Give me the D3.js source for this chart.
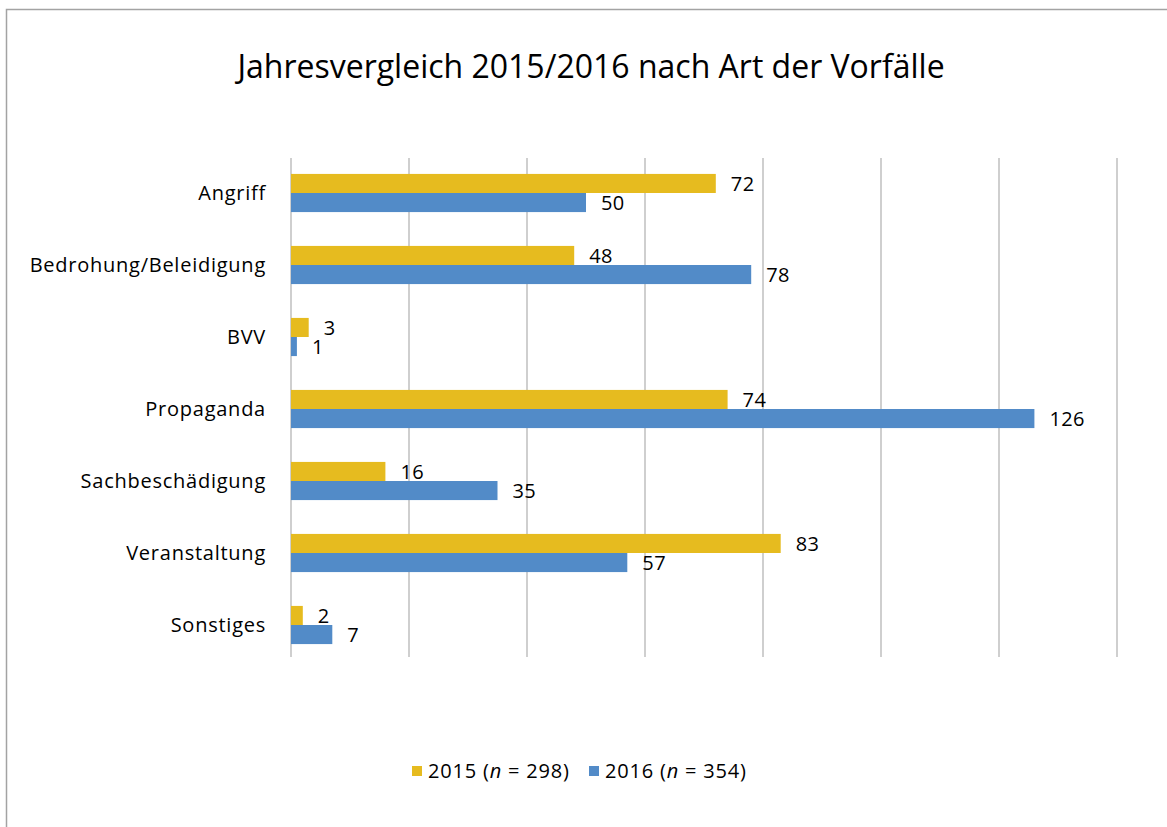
<!DOCTYPE html>
<html>
<head>
<meta charset="utf-8">
<script src="https://cdn.jsdelivr.net/npm/d3@7"></script>
<style>
  body { margin: 0; background: #fff; }
  text { font-family: "Open Sans", "Noto Sans", sans-serif; fill: #000; }
</style>
</head>
<body>
<div id="viz"></div>
<script>
const categories = ["Angriff", "Bedrohung/Beleidigung", "BVV", "Propaganda", "Sachbeschädigung", "Veranstaltung", "Sonstiges"]
const values2015 = [72, 48, 3, 74, 16, 83, 2]
const values2016 = [50, 78, 1, 126, 35, 57, 7]
const seriesNames = ["2015", "2016"]
const seriesLabels = [["2015 (", "n", " = 298)"], ["2016 (", "n", " = 354)"]]
const seriesColors = ["#e6bb1f", "#528bc8"]
const gridTicks = [0, 20, 40, 60, 80, 100, 120, 140]

const width = 1167
const height = 827

const svg = d3.select("#viz").append("svg")
  .attr("width", width)
  .attr("height", height)

// frame
svg.append("path")
  .attr("d", "M6.5,827 L6.5,9.5 L1167,9.5")
  .attr("fill", "none")
  .attr("stroke", "#a3a3a3")
  .attr("stroke-width", 1.5)

svg.append("text")
  .attr("x", 591)
  .attr("y", 78)
  .attr("text-anchor", "middle")
  .attr("font-size", 32)
  .text("Jahresvergleich 2015/2016 nach Art der Vorfälle")

const x = d3.scaleLinear()
  .domain([0, 140])
  .range([291, 1117])

const y = d3.scaleBand()
  .domain(categories)
  .range([157, 661])
  .paddingInner(0.47)
  .paddingOuter(0.235)

const ySub = d3.scaleBand()
  .domain(seriesNames)
  .range([0, y.bandwidth()])

// gridlines
svg.append("g")
  .selectAll("line")
  .data(gridTicks)
  .join("line")
  .attr("x1", d => x(d))
  .attr("x2", d => x(d))
  .attr("y1", 158)
  .attr("y2", 657)
  .attr("stroke", "#bfbfbf")
  .attr("stroke-width", 1.5)

const rows = categories.map((c, i) => ({
  cat: c,
  vals: [values2015[i], values2016[i]]
}))

const groups = svg.append("g")
  .selectAll("g")
  .data(rows)
  .join("g")
  .attr("transform", d => `translate(0,${y(d.cat)})`)

groups.selectAll("rect")
  .data(d => d.vals.map((v, j) => ({ v, s: seriesNames[j], j })))
  .join("rect")
  .attr("x", x(0))
  .attr("y", d => ySub(d.s))
  .attr("width", d => x(d.v) - x(0))
  .attr("height", ySub.bandwidth())
  .attr("fill", d => seriesColors[d.j])

groups.selectAll("text")
  .data(d => d.vals.map((v, j) => ({ v, s: seriesNames[j], j })))
  .join("text")
  .attr("x", d => x(d.v) + 15)
  .attr("y", d => ySub(d.s) + ySub.bandwidth() / 2)
  .attr("dy", "0.36em")
  .attr("font-size", 20)
  .attr("letter-spacing", 0.4)
  .text(d => d.v)

// category labels
svg.append("g")
  .selectAll("text")
  .data(categories)
  .join("text")
  .attr("x", 266)
  .attr("y", d => y(d) + y.bandwidth() / 2)
  .attr("dy", "0.36em")
  .attr("text-anchor", "end")
  .attr("font-size", 20)
  .attr("letter-spacing", 0.75)
  .text(d => d)

// legend
const legendX = [412, 589]
const legend = svg.append("g")
  .selectAll("g")
  .data(seriesNames)
  .join("g")
  .attr("transform", (d, i) => `translate(${legendX[i]},771)`)

legend.append("rect")
  .attr("x", 0)
  .attr("y", -5)
  .attr("width", 10)
  .attr("height", 10)
  .attr("fill", (d, i) => seriesColors[i])

const lt = legend.append("text")
  .attr("x", 16)
  .attr("dy", "0.36em")
  .attr("font-size", 20)
  .attr("letter-spacing", 0.8)

lt.selectAll("tspan")
  .data((d, i) => seriesLabels[i])
  .join("tspan")
  .attr("font-style", (d, k) => k === 1 ? "italic" : "normal")
  .text(d => d)
</script>
</body>
</html>
